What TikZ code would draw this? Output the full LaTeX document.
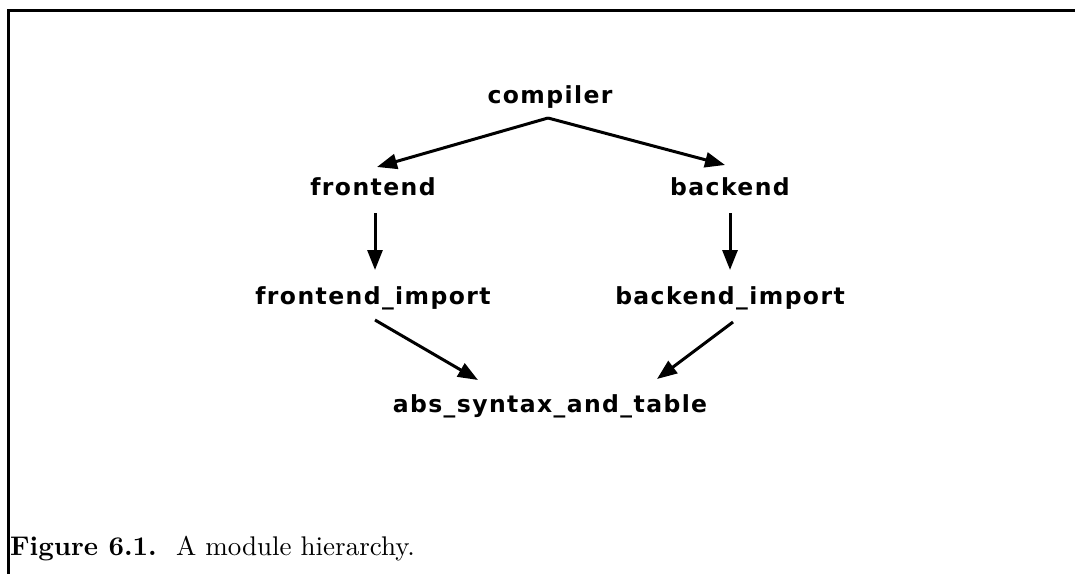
\documentclass[tikz,border=0pt]{standalone}
\usepackage{fontspec}
\usetikzlibrary{arrows.meta,calc}
\newfontfamily\modfont{DejaVu Sans}[LetterSpace=6]
\newfontfamily\capfont{lmroman10}[Extension=.otf, UprightFont=*-regular, BoldFont=*-bold]
\tikzset{
  module/.style={font=\modfont\bfseries\fontsize{23.5}{26}\selectfont, inner sep=0pt, anchor=base},
  dep/.style={line width=3pt, -{Triangle[length=20pt,width=15pt]}},
  frame/.style={line width=3pt}
}
\begin{document}
\begin{tikzpicture}[x=1pt,y=-1pt]
  \useasboundingbox (0,0) rectangle (1075,574);
  % open frame along the top and the left
  \draw[frame] (1075,10) -- (8,10) -- (8,574);

  % modules
  \node[module] (compiler) at (550,103) {compiler};
  \node[module] (frontend) at (373,195) {frontend};
  \node[module] (backend)  at (730,195) {backend};
  \node[module] (fimport)  at (373,304) {frontend\_import};
  \node[module] (bimport)  at (730,304) {backend\_import};
  \node[module] (abs)      at (550,412) {abs\_syntax\_and\_table};

  % dependencies
  \draw[dep] ($(compiler.base)+(-2,15)$) -- ($(frontend.base)+(4,-28)$);
  \draw[dep] ($(compiler.base)+(-2,15)$) -- ($(backend.base)+(-5,-30)$);
  \draw[dep] ($(frontend.base)+(2,18)$) -- ($(fimport.base)+(2,-34)$);
  \draw[dep] ($(backend.base)+(0,18)$) -- ($(bimport.base)+(0,-34)$);
  \draw[dep] ($(fimport.base)+(2,16)$) -- ($(abs.base)+(-72,-32)$);
  \draw[dep] ($(bimport.base)+(3,18)$) -- ($(abs.base)+(107,-33)$);

  % caption
  \node[anchor=base west, inner sep=0pt, font=\capfont\fontsize{27}{31}\selectfont] (caption) at (10,555)
    {\textbf{Figure 6.1.}\hspace{0.72em}A module hierarchy.};
\end{tikzpicture}
\end{document}
